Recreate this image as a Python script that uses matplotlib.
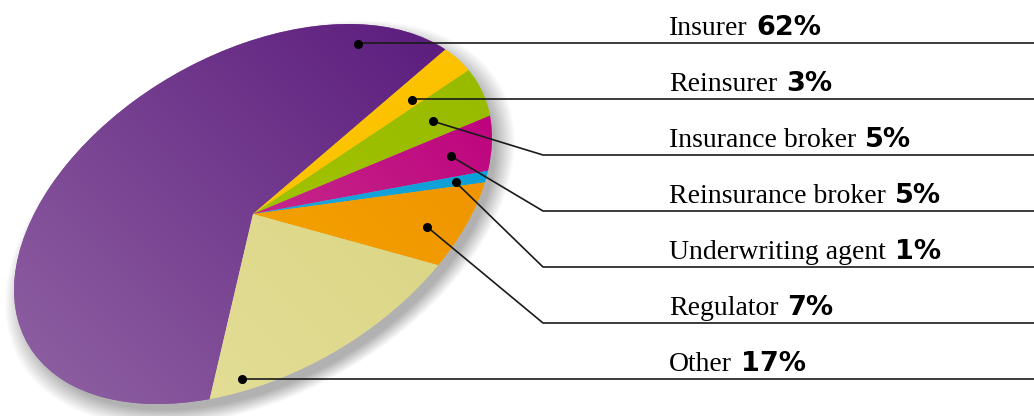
import numpy as np
import matplotlib
matplotlib.use('Agg')
import matplotlib.pyplot as plt
from matplotlib.transforms import Affine2D
from matplotlib.patches import Ellipse
from matplotlib.colors import to_rgb

# ---------------- data ----------------
categories = ['Insurer', 'Reinsurer', 'Insurance broker', 'Reinsurance broker',
              'Underwriting agent', 'Regulator', 'Other']
shares = [62, 3, 5, 5, 1, 7, 17]
pct_labels = ['62%', '3%', '5%', '5%', '1%', '7%', '17%']

# ---------------- style ----------------
dark_colors = ['#5c1d7e', '#fcc200', '#98bb00', '#bd007d', '#009dd6', '#ef9100', '#d8d27e']
light_colors = ['#8c5da0', '#fdc700', '#abca00', '#cd5098', '#48b1e0', '#f7ae00', '#e5e09b']
# where the leader dot sits inside each wedge (fraction of wedge angle, radius)
anchor_frac = [0.11, 0.30, 0.42, 0.46, 0.40, 0.43, 0.124]
anchor_rad = [0.90, 0.76, 0.78, 0.83, 0.87, 0.83, 0.93]

W, H = 1034, 416
fig = plt.figure(figsize=(W / 100, H / 100), dpi=100)
ax = fig.add_axes([0, 0, 1, 1])

cx, cy = 253, H - 214
semi_a, semi_b, tilt = 260, 160, 30
ell = Affine2D().scale(semi_a, semi_b).rotate_deg(tilt).translate(cx, cy)

wedges, _ = ax.pie(shares, startangle=240, counterclock=False, radius=1,
                   center=(0, 0), colors=light_colors,
                   wedgeprops=dict(linewidth=0))
ax.set_aspect('auto')
ax.set_xlim(0, W)
ax.set_ylim(0, H)
ax.axis('off')

# soft drop shadow
nsh = 26
for k in range(nsh):
    s = 0.985 + 0.085 * k / nsh
    ax.add_patch(Ellipse((cx + 7, cy - 9), 2 * semi_a * s, 2 * semi_b * s,
                         angle=tilt, facecolor='black', edgecolor='none',
                         alpha=0.011, zorder=0.5))

# gradient image grid
x0, x1 = cx - 245, cx + 245
y0, y1 = cy - 195, cy + 195
gx, gy = np.meshgrid(np.linspace(x0, x1, 300), np.linspace(y0, y1, 240))
dvec = np.array([-np.cos(np.radians(tilt + 15)), -np.sin(np.radians(tilt + 15))])
proj = ((gx - cx) * dvec[0] + (gy - cy) * dvec[1]) / semi_a
tgrid = np.clip((proj + 1) / 2, 0, 1)[..., None]

for w, c0, c1 in zip(wedges, dark_colors, light_colors):
    w.set_transform(ell + ax.transData)
    w.set_zorder(1)
    img = (1 - tgrid) * np.array(to_rgb(c0)) + tgrid * np.array(to_rgb(c1))
    im = ax.imshow(img, extent=(x0, x1, y0, y1), origin='lower',
                   interpolation='bilinear', zorder=1.5, aspect='auto')
    im.set_clip_path(w)

ax.set_xlim(0, W)
ax.set_ylim(0, H)

# ---------------- labels & leaders ----------------
row0, row_step = 43, 56
elbow_x = 543
text_x = 669

fig.canvas.draw()
renderer = fig.canvas.get_renderer()

for i, (w, cat, pct) in enumerate(zip(wedges, categories, pct_labels)):
    ang = np.radians(w.theta1 + anchor_frac[i] * (w.theta2 - w.theta1))
    px, py = ell.transform((anchor_rad[i] * np.cos(ang), anchor_rad[i] * np.sin(ang)))
    row_y = H - (row0 + row_step * i)
    if abs(py - row_y) < 4:
        xs, ys = [px, W], [row_y, row_y]
    else:
        xs, ys = [px, elbow_x, W], [py, row_y, row_y]
    ax.plot(xs, ys, color='#1a1a1a', lw=1.2, zorder=3, solid_capstyle='butt')
    ax.plot([px], [py], 'o', color='black', ms=5.5, zorder=4)

    t = ax.text(text_x, row_y + 8, cat, family='Liberation Serif', fontsize=20,
                va='baseline', ha='left', color='black')
    bb = t.get_window_extent(renderer)
    ax.text(bb.x1 + 9, row_y + 8, pct, family='DejaVu Sans', weight='bold',
            fontsize=19.5, va='baseline', ha='left', color='black')

fig.savefig('out.png', dpi=100)
